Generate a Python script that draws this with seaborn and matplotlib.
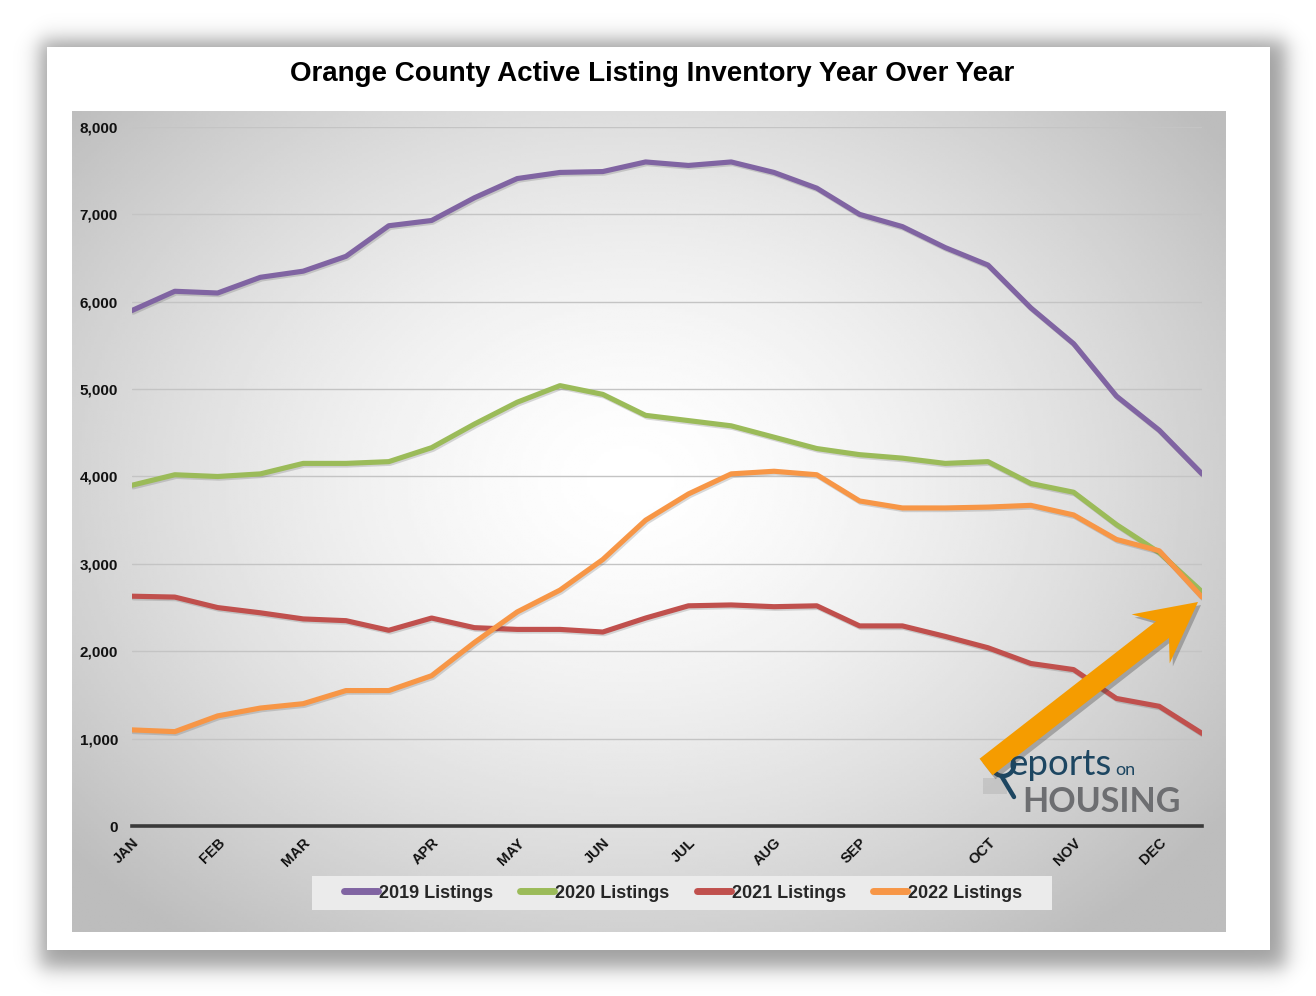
import numpy as np
import pandas as pd
import matplotlib
matplotlib.use("Agg")
import matplotlib.pyplot as plt
import seaborn as sns
from matplotlib import patheffects as pe
from matplotlib.patches import Rectangle, FancyArrow, Circle
from matplotlib.lines import Line2D
from matplotlib.ticker import FuncFormatter

# Datos: 26 lecturas quincenales por año
months = ["JAN", "FEB", "MAR", "APR", "MAY", "JUN", "JUL", "AUG", "SEP", "OCT", "NOV", "DEC"]
month_pos = [0, 2, 4, 7, 9, 11, 13, 15, 17, 20, 22, 24]

listings_2019 = [5900, 6120, 6100, 6280, 6350, 6520, 6870, 6930, 7190, 7410, 7480, 7490, 7600,
                 7560, 7600, 7480, 7300, 7000, 6860, 6620, 6420, 5930, 5520, 4920, 4530, 4030]
listings_2020 = [3900, 4020, 4000, 4030, 4150, 4150, 4170, 4330, 4600, 4850, 5040, 4940, 4700,
                 4640, 4580, 4450, 4320, 4250, 4210, 4150, 4170, 3920, 3820, 3450, 3130, 2680]
listings_2021 = [2630, 2620, 2500, 2440, 2370, 2350, 2240, 2380, 2270, 2250, 2250, 2220, 2380,
                 2520, 2530, 2510, 2520, 2290, 2290, 2170, 2040, 1860, 1790, 1460, 1370, 1060]
listings_2022 = [1100, 1080, 1260, 1350, 1400, 1550, 1550, 1720, 2100, 2450, 2700, 3050, 3500,
                 3800, 4030, 4060, 4020, 3720, 3640, 3640, 3650, 3670, 3560, 3280, 3150, 2620]

series_names = ["2019 Listings", "2020 Listings", "2021 Listings", "2022 Listings"]
colors = ["#8064a2", "#9bbb59", "#c0504d", "#f79646"]

frames = []
for name, vals in zip(series_names, [listings_2019, listings_2020, listings_2021, listings_2022]):
    frames.append(pd.DataFrame({"period": range(len(vals)), "listings": vals, "series": name}))
df = pd.concat(frames, ignore_index=True)

sns.set_theme(style="white")
plt.rcParams["font.family"] = ["Liberation Sans", "DejaVu Sans"]

W, H = 1316, 996
fig = plt.figure(figsize=(W / 100, H / 100), dpi=100)
fig.patch.set_facecolor("white")

# --- fondo: sombra difusa, tarjeta blanca y degradado radial ---
bg = fig.add_axes([0, 0, 1, 1], zorder=0)
bg.set_xlim(0, W)
bg.set_ylim(H, 0)
bg.axis("off")

sx, sy = np.meshgrid(np.arange(W) + 0.5, np.arange(H) + 0.5)
edge = lambda v, a, b, s: 0.25 * (1 + np.tanh((v - a) / s)) * (1 + np.tanh((b - v) / s))
shadow = np.zeros((H, W, 4))
shadow[..., 3] = 0.38 * edge(sx, 40, 1286, 12) * edge(sy, 40, 968, 12)
bg.imshow(shadow, extent=(0, W, H, 0), aspect="auto", zorder=0, interpolation="bilinear")
bg.add_patch(Rectangle((47, 47), 1223, 903, facecolor="white", edgecolor="none", zorder=1))

gx, gy = np.meshgrid(np.linspace(72, 1226, 400), np.linspace(111, 932, 300))
r = np.sqrt(((gx - 630) / 640) ** 2 + ((gy - 480) / 500) ** 2)
grad = 1 - 0.21 * np.clip(r, 0, 1.15) ** 1.5
bg.imshow(grad, extent=(72, 1226, 932, 111), cmap="gray", vmin=0, vmax=1,
          aspect="auto", interpolation="bilinear", zorder=2)
bg.add_patch(Rectangle((312, 876), 740, 34, facecolor="#ebebeb", edgecolor="none", zorder=3))
bg.set_xlim(0, W)
bg.set_ylim(H, 0)

# --- gráfico principal ---
ax = fig.add_axes([132 / W, 1 - 826 / H, 1070 / W, 699 / H], zorder=2)
ax.patch.set_alpha(0)
sns.lineplot(data=df, x="period", y="listings", hue="series", palette=colors,
             linewidth=3.7, ax=ax, legend=False)
for line in ax.lines:
    line.set_path_effects([pe.SimpleLineShadow(offset=(1, -1.2), shadow_color="#444444", alpha=0.2),
                           pe.Normal()])

ax.set_xlim(0, 25)
ax.set_ylim(0, 8000)
ax.set_xlabel("")
ax.set_ylabel("")
ax.yaxis.grid(True, color="#c4c4c4", linewidth=1)
ax.xaxis.grid(False)
for s in ["left", "right", "top"]:
    ax.spines[s].set_visible(False)
ax.spines["bottom"].set_color("#3a3a3a")
ax.spines["bottom"].set_linewidth(2.6)

ax.set_yticks(range(0, 8001, 1000))
ax.yaxis.set_major_formatter(FuncFormatter(lambda v, p: f"{int(v):,}"))
ax.set_xticks(month_pos)
ax.set_xticklabels(months, rotation=45, ha="right", va="top", rotation_mode="anchor")
ax.tick_params(axis="both", length=0, colors="#111111")
ax.tick_params(axis="y", pad=10, labelsize=11)
ax.tick_params(axis="x", pad=7, labelsize=10.5)
for lbl in ax.get_xticklabels() + ax.get_yticklabels():
    lbl.set_fontweight("bold")

handles = [Line2D([], [], color=c, linewidth=5, solid_capstyle="round") for c in colors]
fig.legend(handles, series_names, loc="center", bbox_to_anchor=(683 / W, 1 - 893 / H),
           ncol=4, frameon=False, prop={"size": 13, "weight": "bold"},
           handlelength=1.9, handletextpad=0.05, columnspacing=1.5)

# --- capa superior: título, logo y flecha ---
ov = fig.add_axes([0, 0, 1, 1], zorder=5)
ov.set_xlim(0, W)
ov.set_ylim(H, 0)
ov.axis("off")
ov.patch.set_alpha(0)

ov.text(652, 74, "Orange County Active Listing Inventory Year Over Year",
        ha="center", va="center", fontsize=20, fontweight="bold", color="black")

navy = "#1d4661"
ov.add_patch(Rectangle((983, 778), 24, 16, facecolor="#b9b9b9", edgecolor="none", alpha=0.6))
ov.add_patch(Circle((1003, 765), 11, facecolor="none", edgecolor=navy, linewidth=3.2))
ov.plot([1002, 1014], [777, 797], color=navy, linewidth=3.2, solid_capstyle="round")
ov.text(1009, 775, "eports", fontsize=26.5, color=navy, va="baseline", ha="left",
        family=["Lato", "DejaVu Sans"])
ov.text(1115, 775, "on", fontsize=13, color=navy, va="baseline", ha="left",
        family=["Lato", "DejaVu Sans"])
ov.text(1022, 812, "HOUSING", fontsize=24.5, color="#6d6e71", va="baseline", ha="left",
        fontweight="bold", family=["Lato", "DejaVu Sans"])

ov.add_patch(FancyArrow(989, 771, 212, -166, width=21, head_width=62, head_length=60, overhang=0.25,
                        length_includes_head=True, facecolor="#444444", edgecolor="none", alpha=0.35))
ov.add_patch(FancyArrow(986, 767, 212, -165, width=21, head_width=62, head_length=60, overhang=0.25,
                        length_includes_head=True, facecolor="#f59c00", edgecolor="none"))

fig.savefig("out.png", dpi=100)
